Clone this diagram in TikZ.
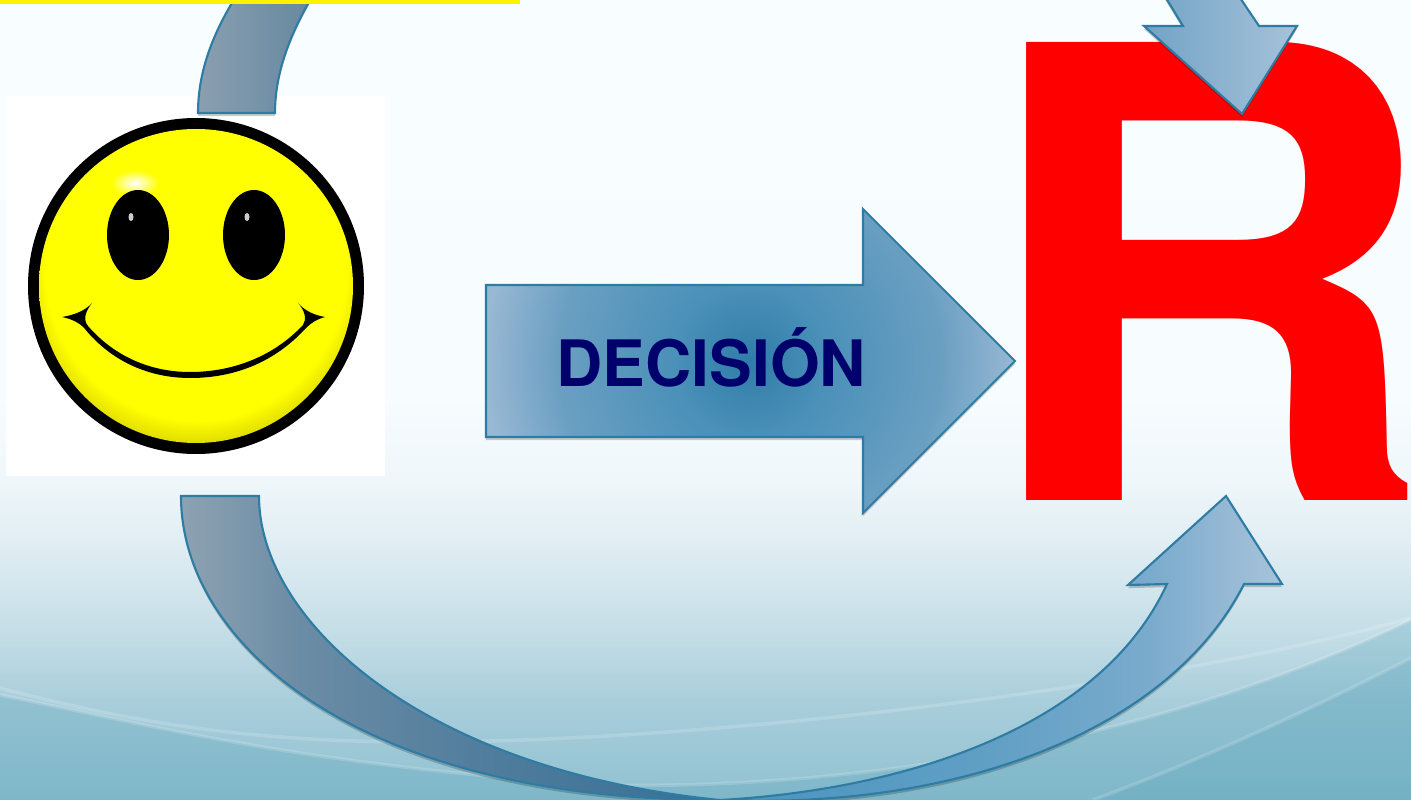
\documentclass[tikz,border=0pt]{standalone}
\usepackage{fontspec}
\setmainfont{TeX Gyre Heros}
\usetikzlibrary{shadows}

\definecolor{edgeblue}{HTML}{2E7CA3}
\definecolor{labelnavy}{HTML}{00006C}
\definecolor{wavetint}{HTML}{4D9DB5}
\definecolor{bga}{HTML}{90C1D1}
\definecolor{bgb}{HTML}{A9CEDB}
\definecolor{bgc}{HTML}{BEDAE4}
\definecolor{bgd}{HTML}{DCEBF1}
\definecolor{bge}{HTML}{EFF7FA}
\definecolor{bgf}{HTML}{F7FCFE}
\definecolor{bgg}{HTML}{F8FDFF}
\definecolor{curvea}{HTML}{8DA2B2}
\definecolor{curveb}{HTML}{6B8CA5}
\definecolor{curvec}{HTML}{4E7C9C}
\definecolor{curved}{HTML}{396F95}
\definecolor{curvee}{HTML}{4A94BE}
\definecolor{curvef}{HTML}{62A0C5}
\definecolor{curveg}{HTML}{7AABCD}
\definecolor{curveh}{HTML}{A8C3DA}
\definecolor{arca}{HTML}{8A9FB0}
\definecolor{arcb}{HTML}{64879F}
\definecolor{heada}{HTML}{72A3C6}
\definecolor{headb}{HTML}{A6C2D9}
\definecolor{deca}{HTML}{2F7DA9}
\definecolor{decb}{HTML}{4A90B8}
\definecolor{decc}{HTML}{6A9FC2}
\definecolor{decd}{HTML}{98B8D3}
\definecolor{facerim}{HTML}{E4E000}
\definecolor{faceedge}{HTML}{A8A400}

\pgfdeclareverticalshading{slidebg}{100bp}{
  color(0bp)=(bga);
  color(25bp)=(bga);
  color(31.25bp)=(bgb);
  color(34.4bp)=(bgc);
  color(40bp)=(bgd);
  color(45bp)=(bge);
  color(50bp)=(bgf);
  color(75bp)=(bgg);
  color(100bp)=(bgg)}
\pgfdeclarehorizontalshading{curvefill}{100bp}{
  color(0bp)=(curvea);
  color(25bp)=(curvea);
  color(30.4bp)=(curveb);
  color(39.5bp)=(curvec);
  color(49.2bp)=(curved);
  color(49.8bp)=(curvee);
  color(62.2bp)=(curvef);
  color(69bp)=(curveg);
  color(75bp)=(curveh);
  color(100bp)=(curveh)}
\pgfdeclareradialshading{decisionfill}{\pgfpointorigin}{
  color(0bp)=(deca);
  color(6.2bp)=(decb);
  color(15.9bp)=(decc);
  color(22.1bp)=(decd);
  color(50bp)=(decd)}
\pgfdeclareradialshading{facefill}{\pgfpoint{0bp}{5bp}}{
  color(0bp)=(yellow);
  color(24bp)=(yellow);
  color(27bp)=(facerim);
  color(30bp)=(faceedge);
  color(50bp)=(faceedge)}

\newcommand{\decisionpath}{(486,285) -- (863,285) -- (863,209) -- (1015,361)
  -- (863,513) -- (863,437) -- (486,437) -- cycle}

\begin{document}
\begin{tikzpicture}[
    x=0.01cm, y=-0.01cm,
    arrowshape/.style={draw=edgeblue, line width=0.6pt, line join=miter,
      drop shadow={shadow xshift=0pt, shadow yshift=-0.9pt, opacity=0.2, fill=black}},
    waveline/.style={white, opacity=0.16, line width=1pt},
    eye/.style={fill=black},
    glint/.style={fill=white, opacity=0.8}
  ]
  \useasboundingbox (0,0) rectangle (1411,800);
  \clip (0,0) rectangle (1411,800);

  % slide background
  \shade[shading=slidebg] (0,0) rectangle (1411,800);
  \fill[wavetint, opacity=0.25] (0,695) .. controls (150,725) and (300,765) .. (600,785)
    .. controls (850,790) and (1150,745) .. (1411,620) -- (1411,800) -- (0,800) -- cycle;
  \fill[wavetint, opacity=0.2] (1411,658) .. controls (1300,715) and (1200,760) .. (1093,800)
    -- (1411,800) -- cycle;
  \draw[waveline] (0,688) .. controls (140,725) and (260,742) .. (420,742)
    .. controls (700,742) and (1150,690) .. (1411,618);
  \draw[waveline] (0,695) .. controls (150,725) and (300,765) .. (600,785)
    .. controls (850,790) and (1150,745) .. (1411,620);
  \draw[waveline] (1411,658) .. controls (1300,715) and (1200,760) .. (1093,800);

  % smiley picture
  \fill[white] (6,96) rectangle (385,476);
  \fill[black] (196,286) circle (168);
  \shade[shading=facefill] (196,286) circle (157);
  \shade[inner color=white, outer color=yellow] (135,183) ellipse [x radius=24, y radius=13];
  \fill[eye] (138,235) ellipse [x radius=31, y radius=45];
  \fill[eye] (254,235) ellipse [x radius=31, y radius=45];
  \fill[glint] (131,217) ellipse [x radius=2.5, y radius=4];
  \fill[glint] (247,217) ellipse [x radius=2.5, y radius=4];
  \fill[black] (62,317) .. controls (74,315) and (85,311) .. (92,303)
    .. controls (85,312) and (83,320) .. (88,326)
    .. controls (114,356) and (150,372) .. (190,372)
    .. controls (235,372) and (275,355) .. (303,325)
    .. controls (307,319) and (305,311) .. (298,303)
    .. controls (305,311) and (314,315) .. (325,317)
    .. controls (317,319) and (311,323) .. (306,328)
    .. controls (275,362) and (235,378) .. (190,378)
    .. controls (150,378) and (112,362) .. (85,329)
    .. controls (80,323) and (72,319) .. (62,317) -- cycle;

  % top left arc
  \path[arrowshape, left color=arca, right color=arcb]
    (198,113) .. controls (198,70) and (214,30) .. (240,-10) -- (316,-10)
    .. controls (292,30) and (275,70) .. (275,113) -- cycle;
  \fill[yellow] (0,0) rectangle (520,4);

  % decision arrow
  \fill[black, opacity=0.2, yshift=-0.9pt] \decisionpath;
  \begin{scope}
    \clip \decisionpath;
    \shade[shading=decisionfill] (750,361) circle (300);
  \end{scope}
  \draw[edgeblue, line width=0.6pt] \decisionpath;
  \node[font=\bfseries\fontsize{18.2}{18.2}\selectfont, text=labelnavy, inner sep=0pt, anchor=base west]
    (decisionlabel) at (556,386) {DECISIÓN};

  % big letter
  \node[font=\bfseries\fontsize{178.7}{178.7}\selectfont, text=red, inner sep=0pt, anchor=base west, xscale=1.016]
    (rletter) at (974.5,500.7) {R};

  % top right head
  \path[arrowshape, left color=heada, right color=headb]
    (1144,26) -- (1183,26) -- (1155,-20) -- (1228,-20) -- (1259,26) -- (1297,26) -- (1242,114) -- cycle;

  % bottom curve
  \path[arrowshape, shading=curvefill, shade]
    (181,496) .. controls (181,645) and (360,800) .. (720,800)
    .. controls (960,810) and (1170,730) .. (1244,584)
    -- (1282,584) -- (1226,496) -- (1128,585) -- (1167,584)
    .. controls (1100,730) and (900,790) .. (720,800)
    .. controls (420,770) and (259,620) .. (259,496) -- cycle;
\end{tikzpicture}
\end{document}
